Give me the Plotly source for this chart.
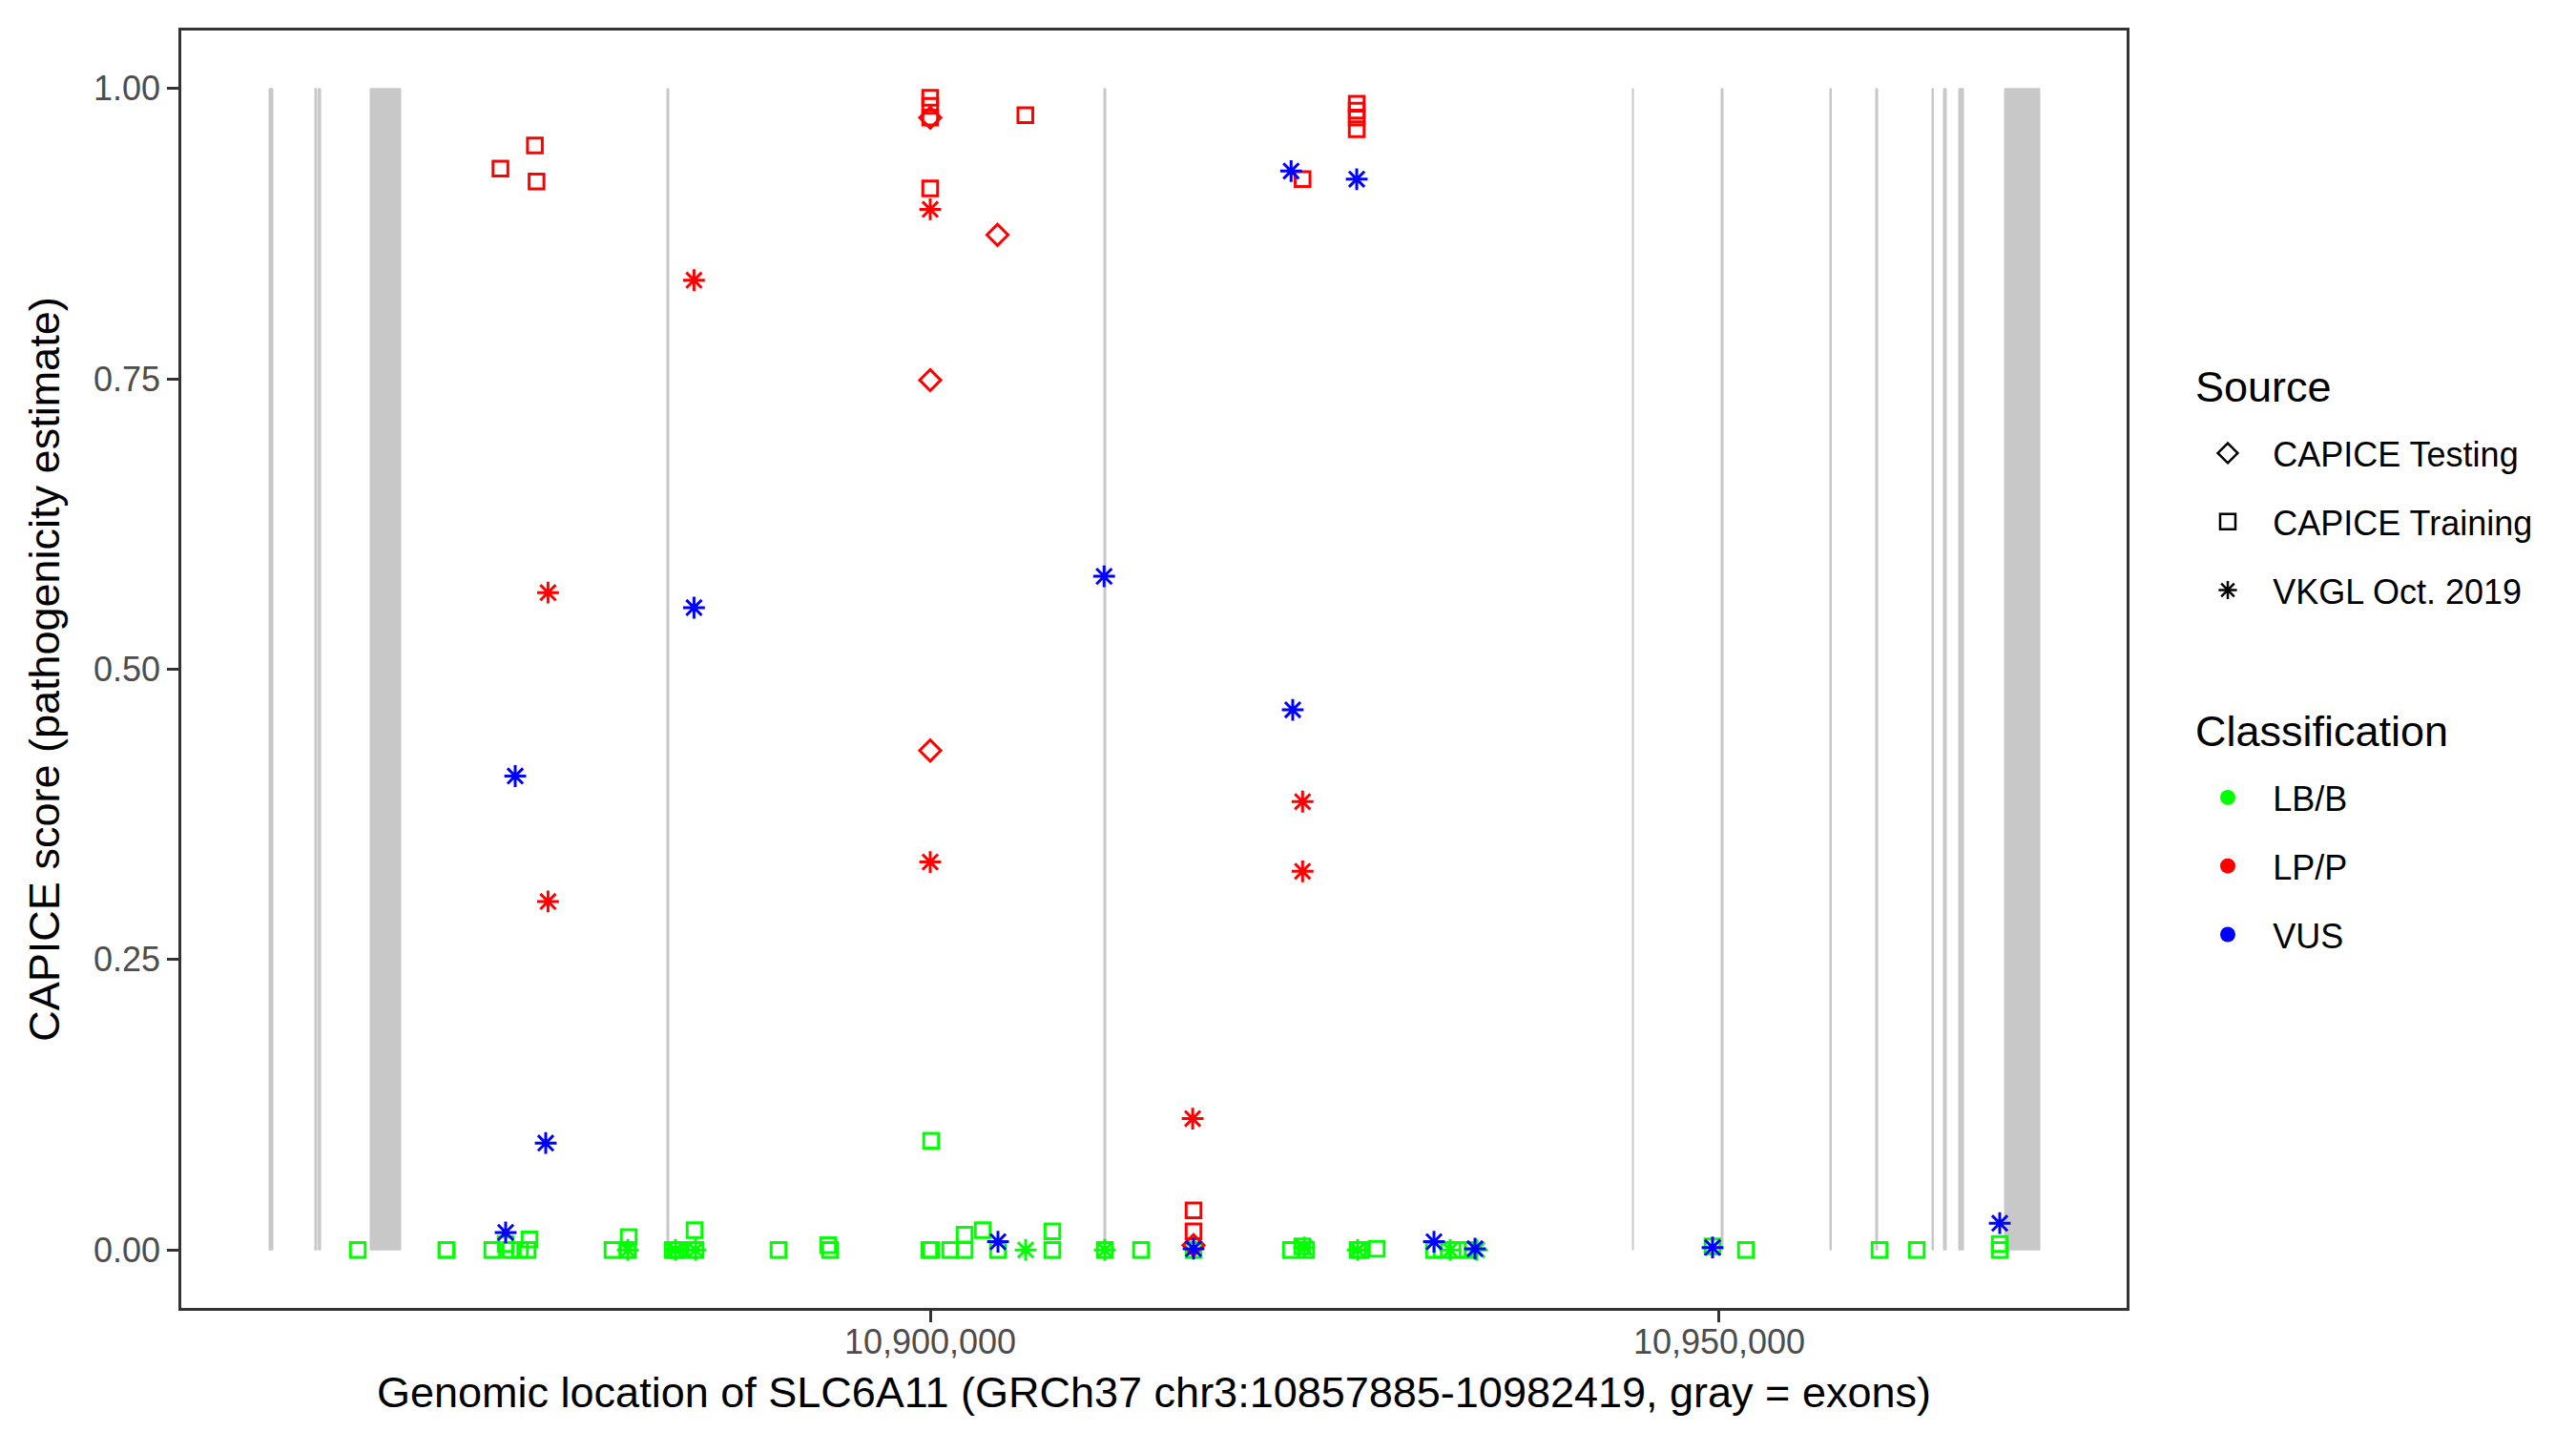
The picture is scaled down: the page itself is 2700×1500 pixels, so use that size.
import plotly.graph_objects as go

# ---------------- data ----------------
exon_start = [10858101, 10861003, 10861227, 10864510, 10883313, 10911004, 10944499,
              10950121, 10957014, 10959916, 10963483, 10964209, 10965176, 10968078]
exon_end = [10858343, 10861124, 10861366, 10866445, 10883434, 10911125, 10944560,
            10950242, 10957105, 10960037, 10963574, 10964390, 10965478, 10970315]

lbb_train_pos = [10863724, 10869347, 10869347, 10872249, 10873095, 10873398, 10874002,
                 10874486, 10874607, 10879867, 10880895, 10880835, 10883676, 10883857,
                 10884039, 10885066, 10885127, 10890387, 10893531, 10893652, 10900060,
                 10900060, 10899940, 10901270, 10902177, 10902177, 10903325, 10904293,
                 10907739, 10907739, 10911064, 10913362, 10916687, 10922854, 10923579,
                 10923821, 10927086, 10927268, 10928295, 10931923, 10932407, 10933434,
                 10934039, 10949577, 10951693, 10960158, 10962516, 10967776, 10967776]
lbb_train_score = [0, 0, 0, 0, 0.005, 0, 0,
                   0, 0.009, 0, 0.011, 0, 0, 0,
                   0, 0.017, 0, 0, 0.004, 0, 0.094,
                   0, 0, 0, 0.013, 0, 0.017, 0,
                   0.016, 0, 0, 0, 0, 0, 0.003,
                   0, 0, 0, 0.001, 0, 0, 0,
                   0, 0.003, 0, 0, 0, 0.005, 0]

lbb_vkgl_pos = [10880835, 10883857, 10885127, 10906046, 10911064, 10923700, 10927086,
                10932951, 10934644]
lbb_vkgl_score = [0, 0, 0, 0, 0, 0.002, 0, 0, 0]

lpp_train_pos = [10872765, 10874948, 10875052, 10900000, 10900000, 10900000, 10900000,
                 10906029, 10923597, 10927027, 10927027, 10927027, 10927027, 10916687,
                 10916687]
lpp_train_score = [0.931, 0.951, 0.920, 0.992, 0.985, 0.975, 0.914,
                   0.977, 0.922, 0.987, 0.981, 0.975, 0.965, 0.034,
                   0.016]

lpp_test_pos = [10900000, 10904262, 10900000, 10900000, 10916687]
lpp_test_score = [0.975, 0.874, 0.749, 0.430, 0.004]

lpp_vkgl_pos = [10885031, 10900000, 10875780, 10875780, 10900000, 10916632, 10923597,
                10923597]
lpp_vkgl_score = [0.835, 0.896, 0.566, 0.300, 0.334, 0.113, 0.386, 0.326]

vus_vkgl_pos = [10873701, 10875635, 10885031, 10873095, 10911019, 10922869, 10927027,
                10922973, 10904293, 10916687, 10931923, 10934523, 10949577, 10967776]
vus_vkgl_score = [0.408, 0.092, 0.553, 0.015, 0.580, 0.929, 0.922,
                  0.465, 0.007, 0.001, 0.007, 0.001, 0.002, 0.023]

source_names = ["CAPICE Testing", "CAPICE Training", "VKGL Oct. 2019"]
class_names = ["LB/B", "LP/P", "VUS"]
x_tick_values = [10900000, 10950000]
x_tick_labels = ["10,900,000", "10,950,000"]
y_tick_values = [0, 0.25, 0.5, 0.75, 1.0]
y_tick_labels = ["0.00", "0.25", "0.50", "0.75", "1.00"]

# ---------------- style ----------------
FONT = "Liberation Sans, Arial, Helvetica, sans-serif"
COL = {"LB/B": "#00FF00", "LP/P": "#FF0000", "VUS": "#0000FF"}
SYM = {"CAPICE Testing": "diamond-open", "CAPICE Training": "square-open",
       "VKGL Oct. 2019": "asterisk-open"}
SIZE = {"CAPICE Testing": 17, "CAPICE Training": 15.5, "VKGL Oct. 2019": 19}
PAD = "\u00a0\u00a0\u2009"

fig = go.Figure()

for s, e in zip(exon_start, exon_end):
    fig.add_shape(type="rect", x0=s, x1=e, y0=0, y1=1, xref="x", yref="y",
                  fillcolor="#C8C8C8", line=dict(color="#C8C8C8", width=1),
                  layer="below")

series = [
    (lbb_train_pos, lbb_train_score, "CAPICE Training", "LB/B"),
    (lbb_vkgl_pos, lbb_vkgl_score, "VKGL Oct. 2019", "LB/B"),
    (lpp_train_pos, lpp_train_score, "CAPICE Training", "LP/P"),
    (lpp_test_pos, lpp_test_score, "CAPICE Testing", "LP/P"),
    (lpp_vkgl_pos, lpp_vkgl_score, "VKGL Oct. 2019", "LP/P"),
    (vus_vkgl_pos, vus_vkgl_score, "VKGL Oct. 2019", "VUS"),
]
for xs, ys, src, cls in series:
    fig.add_trace(go.Scatter(
        x=xs, y=ys, mode="markers", showlegend=False,
        marker=dict(symbol=SYM[src], size=SIZE[src], color=COL[cls],
                    line=dict(width=3, color=COL[cls])),
        hovertemplate=src + " / " + cls + "<br>%{x}: %{y}<extra></extra>"))

# legend entries
for i, src in enumerate(source_names):
    fig.add_trace(go.Scatter(
        x=[None], y=[None], mode="markers", name=PAD + src, legend="legend",
        legendgroup="s%d" % i,
        marker=dict(symbol=SYM[src], size=16, color="black",
                    line=dict(width=2.5, color="black"))))
for i, cls in enumerate(class_names):
    fig.add_trace(go.Scatter(
        x=[None], y=[None], mode="markers", name=PAD + cls, legend="legend2",
        legendgroup="c%d" % i,
        marker=dict(symbol="circle", size=16, color=COL[cls], line=dict(width=0))))

L, R, T, B = 182, 2221, 24, 1363
W, H = 2700, 1500
pw, ph = R - L, B - T

def lx(px):
    return (px - L) / pw

def ly(py):
    return (B - py) / ph

legend_common = dict(
    xanchor="left", yanchor="top", bgcolor="rgba(0,0,0,0)", borderwidth=0,
    font=dict(family=FONT, size=36, color="black"),
    traceorder="grouped", tracegroupgap=22, itemsizing="trace",
)

fig.add_annotation(text="Source", xref="paper", yref="paper", x=lx(2291), y=ly(397),
                   xanchor="left", yanchor="middle", showarrow=False,
                   font=dict(family=FONT, size=45, color="black"))
fig.add_annotation(text="Classification", xref="paper", yref="paper", x=lx(2291), y=ly(758),
                   xanchor="left", yanchor="middle", showarrow=False,
                   font=dict(family=FONT, size=45, color="black"))

fig.update_layout(
    width=W, height=H,
    margin=dict(l=L, r=W - R, t=T, b=H - B),
    paper_bgcolor="white", plot_bgcolor="white",
    font=dict(family=FONT, size=36, color="black"),
    legend=dict(x=lx(2307), y=ly(437), **legend_common),
    legend2=dict(x=lx(2307), y=ly(798), **legend_common),
    xaxis=dict(
        range=[10852539, 10975817], showgrid=False, zeroline=False,
        tickmode="array", tickvals=x_tick_values, ticktext=x_tick_labels,
        ticks="outside", ticklen=12, tickwidth=3, tickcolor="#333333",
        ticklabelstandoff=-10,
        tickfont=dict(family=FONT, size=36, color="#4D4D4D"),
        showline=True, linecolor="#333333", linewidth=2.5, mirror=True,
        title=dict(text="Genomic location of SLC6A11 (GRCh37 chr3:10857885-10982419, gray = exons)",
                   font=dict(family=FONT, size=45, color="black"), standoff=18),
    ),
    yaxis=dict(
        range=[-0.05, 1.05], showgrid=False, zeroline=False,
        tickmode="array", tickvals=y_tick_values, ticktext=y_tick_labels,
        ticks="outside", ticklen=12, tickwidth=3, tickcolor="#333333",
        tickfont=dict(family=FONT, size=36, color="#4D4D4D"),
        showline=True, linecolor="#333333", linewidth=2.5, mirror=True,
        title=dict(text="CAPICE score (pathogenicity estimate)",
                   font=dict(family=FONT, size=45, color="black"), standoff=22),
    ),
)

fig.write_html("out.html")
